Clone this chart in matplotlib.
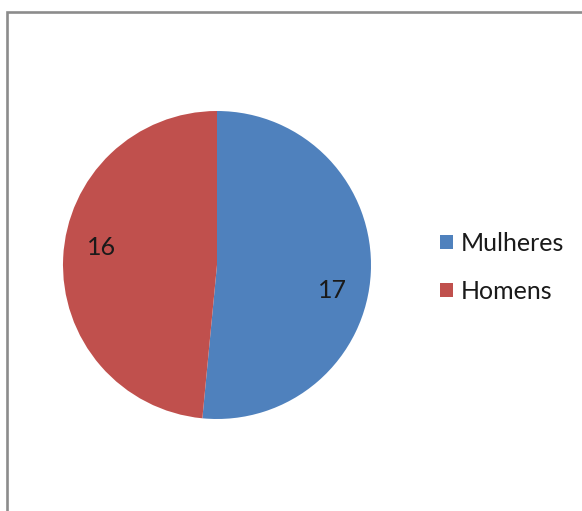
import numpy as np
import matplotlib
matplotlib.use("Agg")
import matplotlib.pyplot as plt
from matplotlib.patches import Rectangle

categories = ["Mulheres", "Homens"]
values = [17, 16]
colors = ["#4F81BD", "#C0504D"]

W, H = 582, 511
fig = plt.figure(figsize=(W / 100, H / 100), dpi=100)
fig.patch.set_facecolor("white")

# frame (only left and top visible)
fig.add_artist(Rectangle((7 / W, -0.1), 1.2, (H - 12) / H + 0.1, transform=fig.transFigure,
                         fill=False, edgecolor="#8c8c8c", linewidth=1.9))

cx, cy, r = 217, 265, 154
ax = fig.add_axes([(cx - r) / W, (H - cy - r) / H, 2 * r / W, 2 * r / H])
wedges, _ = ax.pie(values, colors=colors, startangle=90, counterclock=False, radius=1,
                   wedgeprops=dict(linewidth=0))
ax.set_xlim(-1, 1)
ax.set_ylim(-1, 1)
ax.set_aspect("equal")
ax.axis("off")

for w, v in zip(wedges, values):
    mid = np.deg2rad((w.theta1 + w.theta2) / 2 - 8)
    ax.text(0.76 * np.cos(mid), 0.76 * np.sin(mid) - 0.026, str(v), ha="center", va="center",
            fontsize=18, family="Lato", color="#1a1a1a")

leg = fig.legend(wedges, categories, loc="upper left", bbox_to_anchor=(440 / W, 1 - 232 / H),
                 frameon=False, prop=dict(family="Lato", size=18),
                 handlelength=0.52, handleheight=0.52, handletextpad=0.32, labelspacing=1.0,
                 borderpad=0, borderaxespad=0)
for t in leg.get_texts():
    t.set_color("#1a1a1a")

fig.savefig("out.png", dpi=100, facecolor="white")
